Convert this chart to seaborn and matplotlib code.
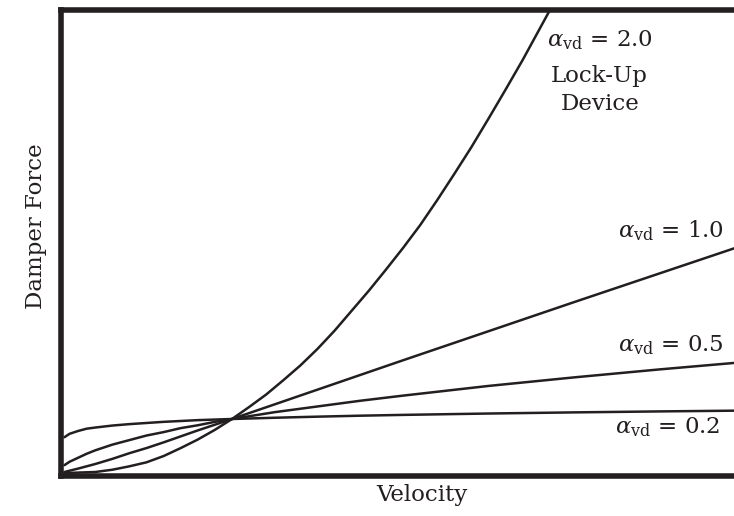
import matplotlib
matplotlib.use("Agg")
import matplotlib.pyplot as plt
import seaborn as sns
import pandas as pd

# Damper force vs. velocity for each velocity exponent alpha_vd
vel_a02 = [0.02, 0.05, 0.1, 0.15, 0.2, 0.3, 0.4, 0.5, 0.6, 0.7, 0.8, 0.9, 1.0,
           1.25, 1.5, 1.75, 2.0, 2.5, 3.0, 3.5, 4.0, 4.25]
force_a02 = [0.68, 0.74, 0.79, 0.83, 0.85, 0.885, 0.91, 0.93, 0.95, 0.965, 0.98, 0.99, 1.0,
             1.022, 1.041, 1.058, 1.072, 1.096, 1.116, 1.133, 1.148, 1.155]

vel_a05 = [0.02, 0.05, 0.1, 0.15, 0.2, 0.25, 0.3, 0.4, 0.5, 0.6, 0.7, 0.8, 0.9, 1.0,
           1.25, 1.5, 1.75, 2.0, 2.5, 3.0, 3.5, 4.0, 4.25]
force_a05 = [0.19, 0.25, 0.32, 0.39, 0.45, 0.50, 0.55, 0.63, 0.71, 0.77, 0.84, 0.89, 0.95, 1.0,
             1.12, 1.22, 1.32, 1.41, 1.58, 1.73, 1.87, 2.0, 2.06]

vel_a10 = [0.02, 0.1, 0.2, 0.3, 0.4, 0.5, 0.6, 0.8, 1.0, 2.0, 3.0, 4.25]
force_a10 = [0.07, 0.13, 0.21, 0.30, 0.40, 0.49, 0.59, 0.80, 1.0, 2.03, 3.05, 4.31]

vel_a20 = [0.02, 0.1, 0.2, 0.3, 0.4, 0.5, 0.6, 0.7, 0.8, 0.9, 1.0, 1.1, 1.2, 1.3, 1.4,
           1.5, 1.6, 1.7, 1.8, 1.9, 2.0, 2.1, 2.2, 2.3, 2.4, 2.5, 2.6, 2.7, 2.8, 2.9]
force_a20 = [0.05, 0.06, 0.07, 0.11, 0.17, 0.24, 0.35, 0.49, 0.64, 0.81, 1.0, 1.21, 1.43,
             1.68, 1.94, 2.23, 2.55, 2.90, 3.25, 3.62, 4.0, 4.40, 4.84, 5.30, 5.77, 6.27,
             6.78, 7.30, 7.85, 8.40]

curve_labels = [r"$\alpha_{\rm vd}$ = 0.2", r"$\alpha_{\rm vd}$ = 0.5",
                r"$\alpha_{\rm vd}$ = 1.0", r"$\alpha_{\rm vd}$ = 2.0"]

ink = "#231f20"

sns.set_theme(style="white")
plt.rcParams["font.family"] = ["DejaVu Serif"]
plt.rcParams["mathtext.fontset"] = "dejavuserif"

fig = plt.figure(figsize=(7.34, 5.16), dpi=100)
ax = fig.add_axes([61 / 734, 40 / 516, 722 / 734, 466 / 516])

curves = [(vel_a02, force_a02), (vel_a05, force_a05),
          (vel_a10, force_a10), (vel_a20, force_a20)]
for vel, force in curves:
    df = pd.DataFrame({"Velocity": vel, "Damper Force": force})
    sns.lineplot(data=df, x="Velocity", y="Damper Force", ax=ax,
                 color=ink, lw=1.8, estimator=None)

ax.set_xlim(0, 4.222)
ax.set_ylim(0, 8.175)
ax.set_xticks([])
ax.set_yticks([])

for side in ("left", "bottom", "top", "right"):
    ax.spines[side].set_color(ink)
    ax.spines[side].set_linewidth(4.0)

fs = 16.5
ax.set_xlabel("Velocity", fontsize=fs, color=ink)
ax.xaxis.set_label_coords(0.5, -0.018)
ax.set_ylabel("Damper Force", fontsize=fs, color=ink)
ax.yaxis.set_label_coords(-0.019, 0.536)

# Curve annotations
ax.text(3.15, 7.53, curve_labels[3], fontsize=fs, color=ink, ha="center", va="baseline")
ax.text(3.15, 6.91, "Lock-Up", fontsize=fs, color=ink, ha="center", va="baseline")
ax.text(3.15, 6.42, "Device", fontsize=fs, color=ink, ha="center", va="baseline")
ax.text(3.257, 4.19, curve_labels[2], fontsize=fs, color=ink, ha="left", va="baseline")
ax.text(3.257, 2.18, curve_labels[1], fontsize=fs, color=ink, ha="left", va="baseline")
ax.text(3.24, 0.75, curve_labels[0], fontsize=fs, color=ink, ha="left", va="baseline")

fig.savefig("out.png", dpi=100)
